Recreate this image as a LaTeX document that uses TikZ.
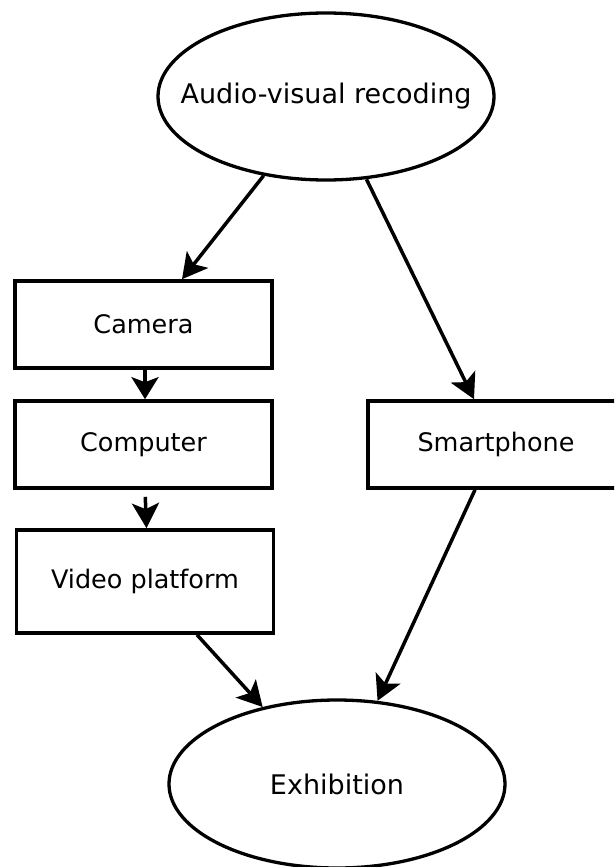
\documentclass[tikz,border=0pt]{standalone}
\usepackage{fontspec}
\setmainfont{DejaVu Sans}
\usetikzlibrary{shapes.geometric,arrows.meta}
\begin{document}
\begin{tikzpicture}[x=1pt,y=-1pt,
  lbl/.style={font=\fontsize{25.5}{30}\selectfont, inner sep=0pt, line width=3.6pt, draw=black},
  oval/.style={lbl, font=\fontsize{27}{32}\selectfont, line width=3.3pt, ellipse, inner xsep=-45pt, minimum width=336pt, minimum height=167pt},
  box/.style={lbl, rectangle, minimum width=257pt, minimum height=87pt},
  conn/.style={line width=3.5pt, -{Stealth[length=25pt,width=27pt,inset=6pt]}}]
\useasboundingbox (0,0) rectangle (614,867);
\clip (0,0) rectangle (614,867);
\node[oval] (top) at (326,96.5) {Audio-visual recoding};
\node[box] (camera) at (143.5,324.5) {Camera};
\node[box] (computer) at (143.5,444.5) {Computer};
\node[box, minimum height=103pt] (video) at (145,581.5) {Video platform};
\node[box, minimum width=256pt] (smart) at (496,444.5) {Smartphone};
\node[oval, minimum height=168pt] (exhib) at (337,784) {Exhibition};
\draw[conn] (top) -- ([xshift=38.5pt]camera.north);
\draw[conn] (top) -- ([xshift=-22pt]smart.north);
\draw[conn, -{Stealth[length=22pt,width=27pt,inset=5pt]}] ([xshift=1.5pt]camera.south) -- ([xshift=1.5pt]computer.north);
\draw[conn, shorten <=7pt] ([xshift=1.5pt]computer.south) -- ([xshift=1.5pt]video.north);
\draw[conn] ([xshift=52pt]video.south) -- (exhib.134);
\draw[conn] ([xshift=-21pt]smart.south) -- (exhib.64.5);
\end{tikzpicture}
\end{document}
